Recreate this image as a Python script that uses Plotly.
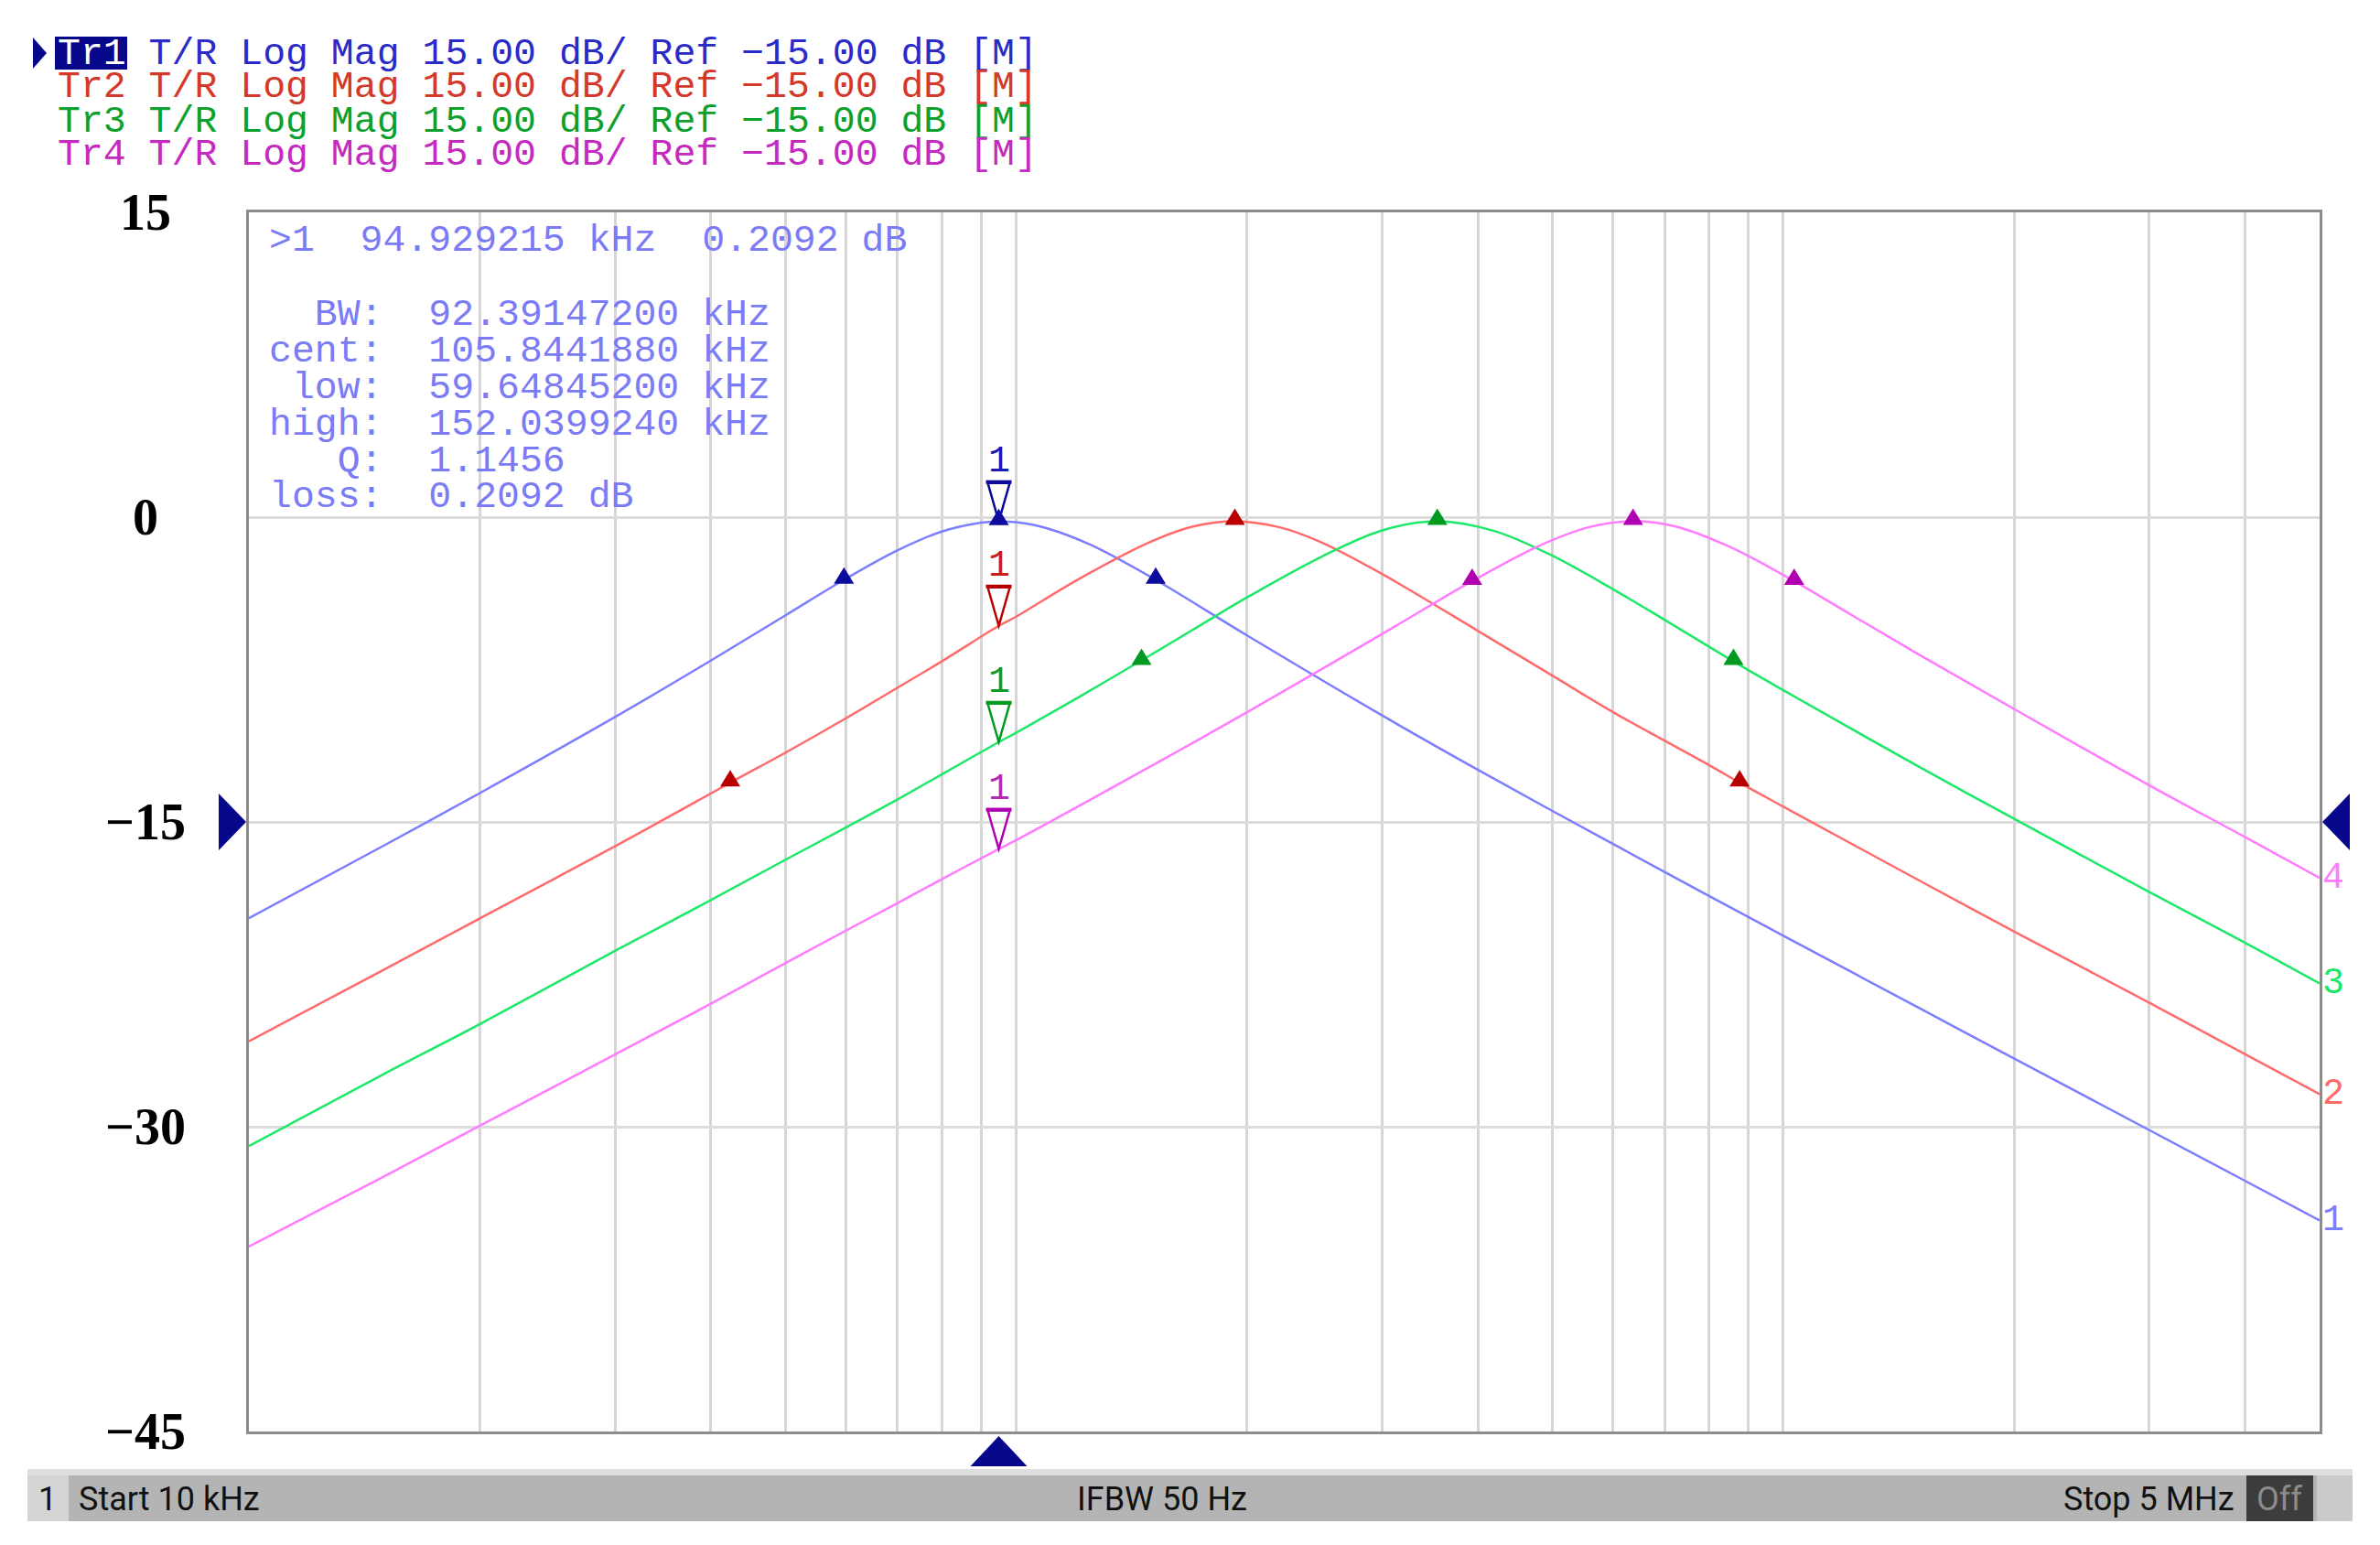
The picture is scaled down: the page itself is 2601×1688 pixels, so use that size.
import math
import numpy as np
import plotly.graph_objects as go

# ---------------- window / plot-area geometry (window pixels) ----------------
WIN_W, WIN_H = 2601, 1688
BODY = 8                      # default page margin around the figure
W, H = WIN_W - 2 * BODY, WIN_H - 2 * BODY
PL, PR, PT, PB = 272, 2535, 232, 1564

# ---------------- axes ----------------
F_START_KHZ, F_STOP_KHZ = 10, 5000
Y_TOP, Y_BOTTOM = 15, -45
Y_GRID = [0, -15, -30]
Y_LABEL_VALS = [15, 0, -15, -30, -45]
Y_LABEL_TEXT = ["15", "0", "\u221215", "\u221230", "\u221245"]
X_GRID_KHZ = [20, 30, 40, 50, 60, 70, 80, 90,
              100, 200, 300, 400, 500, 600, 700, 800, 900,
              1000, 2000, 3000, 4000]

# ---------------- trace data (frequency in kHz, magnitude in dB) ----------------
TR1_F = [10, 15, 20, 30, 40, 50, 60, 70, 80, 90, 94.93, 100, 110, 125, 150,
         200, 300, 400, 500, 600, 700, 800, 1000, 1500, 2000, 3000, 4000, 5000]
TR1_DB = [-19.74, -16.16, -13.58, -9.84, -7.06, -4.84, -3.03, -1.64, -0.71, -0.27, -0.21, -0.25, -0.56, -1.36, -2.96,
          -5.82, -9.76, -12.44, -14.46, -16.09, -17.46, -18.64, -20.6, -24.14, -26.65, -30.17, -32.67, -34.61]

TR2_F = [10, 15, 20, 30, 42.4, 50, 60, 70, 80, 94.93, 100, 120, 150, 170, 192.8, 220, 250,
         300, 400, 500, 600, 700, 800, 877, 1000, 1500, 2000, 3000, 4000, 5000]
TR2_DB = [-25.8, -22.27, -19.75, -16.2, -13.07, -11.6, -9.9, -8.4, -7.1, -5.35, -4.9, -3.1, -1.2, -0.46, -0.2, -0.49, -1.24,
          -2.8, -5.6, -7.8, -9.6, -11.0, -12.2, -13.07, -14.25, -17.86, -20.4, -23.9, -26.44, -28.4]

TR3_F = [10, 15, 20, 30, 40, 50, 60, 70, 80, 94.93, 100, 120, 145.7, 170, 200, 250, 300, 354,
         420, 500, 600, 700, 861, 1000, 1500, 2000, 3000, 4000, 5000]
TR3_DB = [-30.95, -27.4, -24.95, -21.35, -18.85, -16.87, -15.28, -13.9, -12.66, -11.07, -10.61, -8.91, -7.05, -5.54, -3.95, -1.95, -0.65, -0.2,
          -0.68, -1.9, -3.55, -5.05, -7.1, -8.52, -12.27, -14.85, -18.45, -20.95, -22.95]

TR4_F = [10, 15, 20, 30, 40, 50, 60, 70, 80, 94.93, 100, 150, 200, 300, 393, 480, 560, 637,
         720, 850, 1033, 1200, 1500, 2000, 3000, 4000, 5000]
TR4_DB = [-35.9, -32.45, -29.95, -26.45, -23.95, -21.95, -20.35, -19.0, -17.82, -16.33, -15.9, -12.25, -9.6, -5.75, -3.15, -1.42, -0.48, -0.2,
          -0.44, -1.45, -3.15, -4.6, -6.75, -9.45, -13.2, -15.75, -17.75]

TRACE_F = [TR1_F, TR2_F, TR3_F, TR4_F]
TRACE_DB = [TR1_DB, TR2_DB, TR3_DB, TR4_DB]
TRACE_NAMES = ["Tr1", "Tr2", "Tr3", "Tr4"]
END_LABELS = ["1", "2", "3", "4"]

# marker 1 (same stimulus on every trace)
MKR_F_KHZ = 94.929215
MKR_DB = [-0.2092, -5.35, -11.07, -16.33]
# peak markers and bandwidth markers
PEAK_F = [94.93, 192.8, 354, 637]
PEAK_DB = [-0.21, -0.2, -0.2, -0.2]
BW_LOW_F = [59.64845, 42.4, 145.7, 393]
BW_HIGH_F = [152.039924, 877, 861, 1033]
BW_DB = [-3.1, -13.07, -7.1, -3.15]
REF_LEVEL = -15

HEADER_REST = "T/R Log Mag 15.00 dB/ Ref \u221215.00 dB [M]"
MKR_LINES = [">1  94.929215 kHz  0.2092 dB",
             "  BW:  92.39147200 kHz",
             "cent:  105.8441880 kHz",
             " low:  59.64845200 kHz",
             "high:  152.0399240 kHz",
             "   Q:  1.1456",
             "loss:  0.2092 dB"]
MKR_LINE_Y = [262, 343, 383, 423, 463, 503, 542]
STATUS_LEFT = "Start 10 kHz"
STATUS_MID = "IFBW 50 Hz"
STATUS_RIGHT = "Stop 5 MHz"

# ---------------- styles ----------------
LINE_COLORS = ["#7d7dff", "#ff6b6b", "#1ee86a", "#ff7cff"]
DARK_COLORS = ["#0b0b9c", "#b80000", "#009a20", "#b000b0"]
HEADER_COLORS = ["#2a2ac8", "#d4382a", "#0ea02c", "#c42ac0"]
LABEL1_COLORS = ["#1a1ab8", "#c81e1e", "#119a26", "#b42ab4"]
NAVY = "#07078c"
MONO = "Liberation Mono"


def px_x(px):
    return (px - PL) / (PR - PL)


def px_y(py):
    return (PB - py) / (PB - PT)


def nb(s):
    return s.replace(" ", "\u00a0")


fig = go.Figure()

for i in range(4):
    fig.add_trace(go.Scatter(
        x=np.array(TRACE_F[i]) * 1e3, y=TRACE_DB[i], mode="lines",
        line=dict(color=LINE_COLORS[i], width=2.5, shape="spline", smoothing=1.0),
        name=TRACE_NAMES[i], hoverinfo="skip"))

shapes = []
annotations = []

# small filled triangles: peak and bandwidth markers
for i in range(4):
    for f, v in [(PEAK_F[i], PEAK_DB[i]), (BW_LOW_F[i], BW_DB[i]), (BW_HIGH_F[i], BW_DB[i])]:
        shapes.append(dict(type="path", xref="x", yref="y", xsizemode="pixel", ysizemode="pixel",
                           xanchor=f * 1e3, yanchor=v,
                           path="M-11,-4 L11,-4 L0,14 Z",
                           fillcolor=DARK_COLORS[i], line=dict(width=0)))

# hollow inverted marker-1 triangles (with thick top bar) and "1" labels
for i in range(4):
    shapes.append(dict(type="path", xref="x", yref="y", xsizemode="pixel", ysizemode="pixel",
                       xanchor=MKR_F_KHZ * 1e3, yanchor=MKR_DB[i],
                       path="M0,0 L-12,42 L12,42 Z",
                       fillcolor="rgba(0,0,0,0)", line=dict(color=DARK_COLORS[i], width=2.5)))
    shapes.append(dict(type="path", xref="x", yref="y", xsizemode="pixel", ysizemode="pixel",
                       xanchor=MKR_F_KHZ * 1e3, yanchor=MKR_DB[i],
                       path="M-14,43 L14,43",
                       line=dict(color=DARK_COLORS[i], width=4)))
    annotations.append(dict(xref="x", yref="y", x=math.log10(MKR_F_KHZ * 1e3), y=MKR_DB[i],
                            yshift=65, text="1", showarrow=False, xanchor="center", yanchor="middle",
                            font=dict(family=MONO, size=40, color=LABEL1_COLORS[i])))

# end-of-trace labels at the right edge
for i in range(4):
    annotations.append(dict(xref="paper", yref="y", x=1, y=TRACE_DB[i][-1], xshift=2,
                            text=END_LABELS[i], showarrow=False, xanchor="left", yanchor="middle",
                            borderpad=0,
                            font=dict(family=MONO, size=40, color=LINE_COLORS[i])))

# reference-level arrows (left / right) and stimulus arrow (bottom)
shapes.append(dict(type="path", xref="paper", yref="y", xsizemode="pixel", ysizemode="pixel",
                   xanchor=0, yanchor=REF_LEVEL, path="M-33,31 L-33,-31 L-3,0 Z",
                   fillcolor=NAVY, line=dict(width=0)))
shapes.append(dict(type="path", xref="paper", yref="y", xsizemode="pixel", ysizemode="pixel",
                   xanchor=1, yanchor=REF_LEVEL, path="M3,0 L33,31 L33,-31 Z",
                   fillcolor=NAVY, line=dict(width=0)))
shapes.append(dict(type="path", xref="x", yref="paper", xsizemode="pixel", ysizemode="pixel",
                   xanchor=MKR_F_KHZ * 1e3, yanchor=0, path="M0,-5 L-31,-38 L31,-38 Z",
                   fillcolor=NAVY, line=dict(width=0)))

# y-axis labels (bold serif)
for v, t in zip(Y_LABEL_VALS, Y_LABEL_TEXT):
    annotations.append(dict(xref="paper", yref="y", x=px_x(159), y=v, text="<b>%s</b>" % t,
                            showarrow=False, xanchor="center", yanchor="middle",
                            font=dict(family="Liberation Serif", size=56, color="#000000")))

# header lines
HEADER_Y = [58, 95, 133, 169]
shapes.append(dict(type="rect", xref="paper", yref="paper",
                   x0=px_x(60), x1=px_x(139), y0=px_y(76), y1=px_y(40),
                   fillcolor=NAVY, line=dict(width=0)))
shapes.append(dict(type="path", xref="paper", yref="paper",
                   path="M%f,%f L%f,%f L%f,%f Z" % (px_x(36), px_y(41), px_x(51), px_y(58),
                                                    px_x(36), px_y(75)),
                   fillcolor=NAVY, line=dict(width=0)))
for i in range(4):
    name_color = "#ffffff" if i == 0 else HEADER_COLORS[i]
    txt = "<span style='color:%s'>%s</span>%s" % (name_color, TRACE_NAMES[i], nb(" " + HEADER_REST))
    annotations.append(dict(xref="paper", yref="paper", x=px_x(62), y=px_y(HEADER_Y[i]),
                            text=txt, showarrow=False, xanchor="left", yanchor="middle",
                            borderpad=0,
                            font=dict(family=MONO, size=41.5, color=HEADER_COLORS[i])))

# marker readout block
for line, yy in zip(MKR_LINES, MKR_LINE_Y):
    annotations.append(dict(xref="paper", yref="paper", x=px_x(293), y=px_y(yy),
                            text=nb(line), showarrow=False, xanchor="left", yanchor="middle",
                            borderpad=0,
                            font=dict(family=MONO, size=41.5, color="#7b7bf5")))


# status bar
def rect(x0, x1, y0, y1, color):
    shapes.append(dict(type="rect", xref="paper", yref="paper",
                       x0=px_x(x0), x1=px_x(x1), y0=px_y(y1), y1=px_y(y0),
                       fillcolor=color, line=dict(width=0), layer="below"))


rect(30, 2571, 1605, 1613, "#dedede")
rect(30, 2571, 1612, 1662, "#b4b4b4")
rect(30, 75, 1612, 1662, "#d4d4d4")
rect(2455, 2528, 1612, 1662, "#3d3d3d")
rect(2532, 2571, 1612, 1662, "#cacaca")
SB_Y = px_y(1638)
SB_FONT = dict(family="Roboto", size=36, color="#111111")
annotations += [
    dict(xref="paper", yref="paper", x=px_x(52), y=SB_Y, text="1", showarrow=False,
         xanchor="center", yanchor="middle", font=SB_FONT),
    dict(xref="paper", yref="paper", x=px_x(85), y=SB_Y, text=STATUS_LEFT, showarrow=False,
         xanchor="left", yanchor="middle", borderpad=0, font=SB_FONT),
    dict(xref="paper", yref="paper", x=px_x(1270), y=SB_Y, text=STATUS_MID, showarrow=False,
         xanchor="center", yanchor="middle", font=SB_FONT),
    dict(xref="paper", yref="paper", x=px_x(2443), y=SB_Y, text=STATUS_RIGHT, showarrow=False,
         xanchor="right", yanchor="middle", borderpad=0, font=SB_FONT),
    dict(xref="paper", yref="paper", x=px_x(2491), y=SB_Y, text="Off", showarrow=False,
         xanchor="center", yanchor="middle", font=dict(family="Roboto", size=36, color="#8c8c8c")),
]

fig.update_layout(
    width=W, height=H,
    margin=dict(l=PL - BODY, r=(BODY + W) - PR, t=PT - BODY, b=(BODY + H) - PB, pad=0),
    paper_bgcolor="#ffffff", plot_bgcolor="#ffffff",
    showlegend=False,
    shapes=shapes, annotations=annotations,
    xaxis=dict(type="log", range=[math.log10(F_START_KHZ * 1e3), math.log10(F_STOP_KHZ * 1e3)],
               tickvals=[f * 1e3 for f in X_GRID_KHZ], showticklabels=False, ticks="",
               showgrid=True, gridcolor="#d6d6d6", gridwidth=2.5,
               showline=True, linecolor="#8c8c8c", linewidth=3, mirror=True, zeroline=False),
    yaxis=dict(range=[Y_BOTTOM, Y_TOP], tickvals=Y_GRID, showticklabels=False, ticks="",
               showgrid=True, gridcolor="#dcdcdc", gridwidth=3,
               showline=True, linecolor="#8c8c8c", linewidth=3, mirror=True, zeroline=False),
)

fig.write_html("out.html")
